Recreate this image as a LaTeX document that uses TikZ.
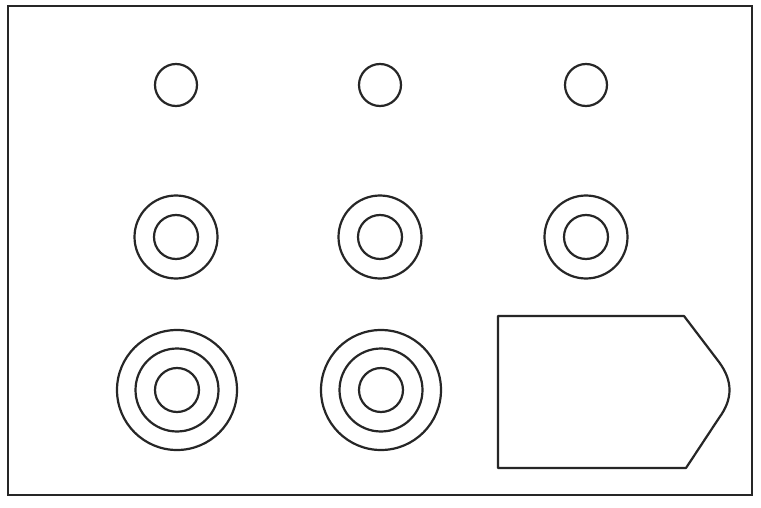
\documentclass[tikz,border=0pt]{standalone}
\begin{document}
\begin{tikzpicture}[x=1pt,y=-1pt,
  ln/.style={draw=black!85,line width=2.2pt},
  ring/.style={ln,circle,inner sep=0pt,minimum size=#1}]
\useasboundingbox (0,0) rectangle (761,508);
\fill[white] (0,0) rectangle (761,508);
\draw[ln] (8,6) rectangle (752,495);
% row 1
\node[ring=42pt] (a1) at (176,85) {};
\node[ring=42pt] (b1) at (380,85) {};
\node[ring=42pt] (c1) at (586,85) {};
% row 2
\foreach \n/\x in {a2/176,b2/380,c2/586}{
  \node[ring=44pt] (\n i) at (\x,237) {};
  \node[ring=83pt] (\n o) at (\x,237) {};
}
% row 3
\foreach \n/\x in {a3/177,b3/381}{
  \node[ring=44pt] (\n i) at (\x,390) {};
  \node[ring=83pt] (\n m) at (\x,390) {};
  \node[ring=120pt] (\n o) at (\x,390) {};
}
% shape
\draw[ln,line join=round] (498,316) -- (684,316) -- (719,362)
  .. controls (733,381) and (733,399) .. (719,418) -- (686,468) -- (498,468) -- cycle;
\end{tikzpicture}
\end{document}
